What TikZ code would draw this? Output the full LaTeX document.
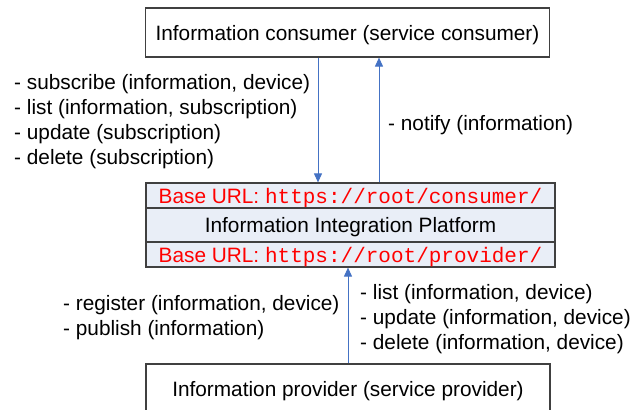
\documentclass[tikz,border=0pt]{standalone}
\usepackage{fontspec}
\setmainfont{Liberation Sans}
\setmonofont{Liberation Mono}
\usetikzlibrary{arrows.meta}
\definecolor{arrblue}{HTML}{4472C4}
\definecolor{platfill}{HTML}{E9EEF7}
\definecolor{edge}{HTML}{404040}
\definecolor{urlred}{HTML}{FF0000}
\begin{document}
\begin{tikzpicture}[x=1pt,y=-1pt,
  every node/.style={font=\fontsize{20.8}{24.8}\selectfont},
  actor/.style={draw=edge,line width=1.2pt,fill=white,minimum width=404pt,minimum height=49pt,inner sep=0pt,text height=15pt,text depth=0pt},
  platrow/.style={draw=edge,line width=1.2pt,fill=platfill,minimum width=409pt,inner sep=0pt,text height=15pt,text depth=0pt},
  lbl/.style={align=left,anchor=west,inner sep=0pt},
  arr/.style={draw=arrblue,line width=1pt,-{Triangle[length=9pt,width=8pt]}}]
\useasboundingbox (0,0) rectangle (630,410);
\fill[white] (0,0) rectangle (630,410);
\node[actor] (cons) at (347.5,32.5) {Information consumer (service consumer)};
\node[platrow,minimum height=25pt] (urlc) at (350.5,195.5) {\textcolor{urlred}{Base URL: {\fontsize{21}{24}\selectfont\ttfamily https://root/consumer/}}};
\node[platrow,minimum height=34pt] (plat) at (350.5,225) {Information Integration Platform};
\node[platrow,minimum height=25pt] (urlp) at (350.5,254.5) {\textcolor{urlred}{Base URL: {\fontsize{21}{24}\selectfont\ttfamily https://root/provider/}}};
\begin{scope}
\clip (0,0) rectangle (630,410);
\node[actor,minimum height=50pt] (prov) at (348,389) {Information provider (service provider)};
\end{scope}
\coordinate (xd) at (318,0);
\coordinate (xu) at (379,0);
\coordinate (xp) at (348,0);
\draw[arr] (cons.south -| xd) -- (urlc.north -| xd);
\draw[arr] (urlc.north -| xu) -- (cons.south -| xu);
\draw[arr] (prov.north -| xp) -- (urlp.south -| xp);
\node[lbl] (lsub) at (14,121.5) {- subscribe (information, device)\\- list (information, subscription)\\- update (subscription)\\- delete (subscription)};
\node[lbl] (lnot) at (388,125) {- notify (information)};
\node[lbl] (lreg) at (63,317.5) {- register (information, device)\\- publish (information)};
\node[lbl] (llist) at (360,319) {- list (information, device)\\- update (information, device)\\- delete (information, device)};
\end{tikzpicture}
\end{document}
